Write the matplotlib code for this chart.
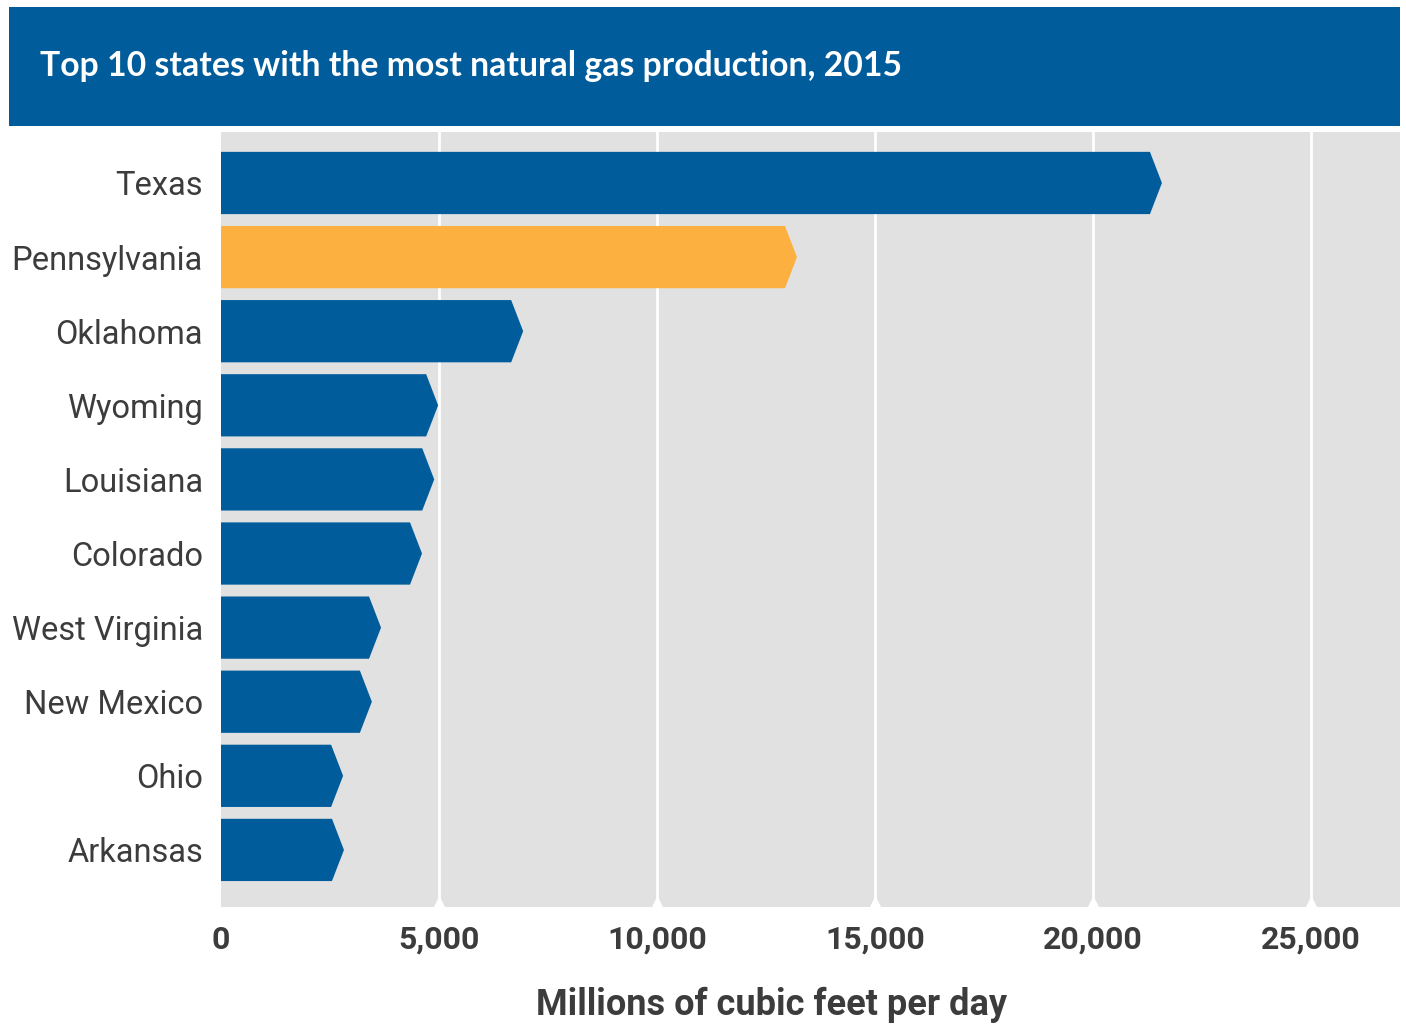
import numpy as np
import matplotlib.pyplot as plt
import matplotlib.patches as patches

# データ
states = ['Texas', 'Pennsylvania', 'Oklahoma', 'Wyoming', 'Louisiana',
          'Colorado', 'West Virginia', 'New Mexico', 'Ohio', 'Arkansas']
production = [21580, 13210, 6930, 4980, 4890, 4610, 3670, 3460, 2800, 2820]
highlight = 'Pennsylvania'
xticks = [0, 5000, 10000, 15000, 20000, 25000]

BLUE = '#005C9B'
ORANGE = '#FBB040'
GRAY = '#E1E1E1'
TEXT = '#3C3C3C'

plt.rcParams['font.family'] = ['Roboto', 'DejaVu Sans']

fig = plt.figure(figsize=(14.06, 10.28), dpi=100)

# タイトル帯
banner = fig.add_axes([9/1406, 1 - 126/1028, 1391/1406, 119/1028])
banner.set_facecolor(BLUE)
banner.set_xticks([])
banner.set_yticks([])
for s in banner.spines.values():
    s.set_visible(False)
banner.text(31/1391, 0.5, 'Top 10 states with the most natural gas production, 2015',
            color='white', fontsize=24.3, va='center', ha='left',
            family=['Lato', 'DejaVu Sans'], fontweight='bold')

ax = fig.add_axes([221/1406, 1 - 907/1028, 1179/1406, 775/1028])
ax.set_facecolor(GRAY)
xmax = 27040
ax.set_xlim(0, xmax)
n = len(states)
ax.set_ylim(n - 1 + 0.77, -0.688)

# 矢印型のバー
h = 0.84
tip = 275
for i, (name, v) in enumerate(zip(states, production)):
    c = ORANGE if name == highlight else BLUE
    pts = [(0, i - h/2), (v - tip, i - h/2), (v, i), (v - tip, i + h/2), (0, i + h/2)]
    ax.add_patch(patches.Polygon(pts, closed=True, facecolor=c, edgecolor='none', zorder=3))

# グリッド
for x in xticks[1:]:
    ax.axvline(x, color='white', lw=2, zorder=1)
ybot = ax.get_ylim()[0]
ax.plot(xticks[1:], [ybot]*5, marker='^', ms=14, color='white', ls='none',
        clip_on=False, zorder=2)

ax.set_yticks(range(n))
ax.set_yticklabels(states, fontsize=23.5, color=TEXT)
ax.set_xticks(xticks)
ax.set_xticklabels([f'{x:,}' for x in xticks], fontsize=23, fontweight='bold', color=TEXT)
ax.tick_params(length=0)
ax.tick_params(axis='y', pad=13)
ax.tick_params(axis='x', pad=13)
for s in ax.spines.values():
    s.set_visible(False)

fig.text(772/1406, 1 - 1005/1028, 'Millions of cubic feet per day', ha='center', va='center',
         fontsize=26, fontweight='bold', color=TEXT)

fig.savefig('out.png', dpi=100, facecolor='white')
